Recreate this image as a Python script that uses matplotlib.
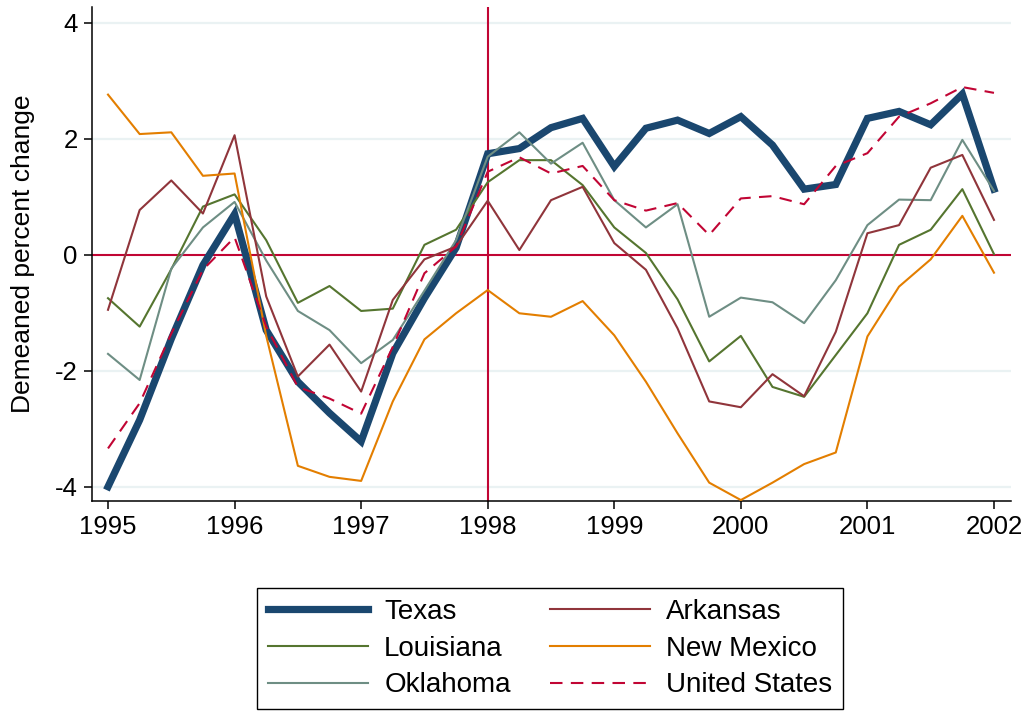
import matplotlib
matplotlib.use("Agg")
import matplotlib.pyplot as plt
import numpy as np

plt.rcParams['font.family'] = ['Liberation Sans', 'DejaVu Sans']

# Quarterly time axis 1995Q1 .. 2002Q1
years = [1995, 1996, 1997, 1998, 1999, 2000, 2001, 2002]
quarters = np.arange(29) / 4.0 + 1995

texas = [-4.00, -2.85, -1.45, -0.18, 0.70, -1.30, -2.19, -2.73, -3.22, -1.70,
         -0.75, 0.12, 1.74, 1.83, 2.19, 2.35, 1.52, 2.18, 2.32, 2.09,
         2.38, 1.89, 1.13, 1.21, 2.35, 2.47, 2.24, 2.77, 1.13]
louisiana = [-0.75, -1.24, -0.25, 0.83, 1.04, 0.25, -0.83, -0.54, -0.97, -0.93,
             0.17, 0.43, 1.25, 1.63, 1.63, 1.20, 0.47, 0.03, -0.77, -1.84,
             -1.40, -2.28, -2.45, -1.73, -1.01, 0.17, 0.43, 1.13, 0.01]
oklahoma = [-1.71, -2.16, -0.24, 0.47, 0.91, -0.10, -0.97, -1.30, -1.87, -1.47,
            -0.62, 0.25, 1.69, 2.11, 1.57, 1.93, 0.94, 0.47, 0.87, -1.07,
            -0.74, -0.82, -1.18, -0.44, 0.51, 0.95, 0.94, 1.98, 1.10]
arkansas = [-0.95, 0.77, 1.28, 0.71, 2.06, -0.72, -2.10, -1.55, -2.36, -0.78,
            -0.08, 0.14, 0.93, 0.08, 0.94, 1.17, 0.20, -0.26, -1.27, -2.53,
            -2.63, -2.06, -2.44, -1.33, 0.37, 0.51, 1.50, 1.72, 0.60]
new_mexico = [2.76, 2.08, 2.11, 1.36, 1.40, -1.40, -3.64, -3.83, -3.90, -2.53,
              -1.46, -1.01, -0.61, -1.01, -1.07, -0.80, -1.39, -2.19, -3.08, -3.93,
              -4.23, -3.93, -3.61, -3.41, -1.41, -0.55, -0.08, 0.67, -0.31]
united_states = [-3.34, -2.56, -1.36, -0.26, 0.30, -1.24, -2.28, -2.48, -2.74, -1.59,
                 -0.32, 0.14, 1.43, 1.68, 1.40, 1.53, 0.94, 0.76, 0.89, 0.34,
                 0.97, 1.01, 0.87, 1.53, 1.75, 2.38, 2.61, 2.89, 2.79]

yticks = [-4, -2, 0, 2, 4]
ytick_labels = ['-4', '-2', '0', '2', '4']

NAVY = '#1a476f'
MAROON = '#90353b'
FOREST = '#55752f'
ORANGE = '#e37e00'
TEAL = '#6e8e84'
CRANBERRY = '#c10534'
GRID = '#eaf2f3'

fig = plt.figure(figsize=(10.29, 7.11), dpi=100)
ax = fig.add_axes([0.0891, 0.2958, 0.8931, 0.6944])

ax.set_xlim(1994.871, 2002.132)
ax.set_ylim(-4.241, 4.271)

for y in yticks:
    if y != 0:
        ax.axhline(y, color=GRID, lw=1.6, zorder=0.5)
ax.axhline(0, color=CRANBERRY, lw=1.5, zorder=1.5)
ax.axvline(1998, color=CRANBERRY, lw=1.5, zorder=1.5)

l_tx, = ax.plot(quarters, texas, color=NAVY, lw=5.2, label='Texas', zorder=2,
                solid_joinstyle='miter')
l_la, = ax.plot(quarters, louisiana, color=FOREST, lw=1.5, label='Louisiana', zorder=3)
l_ok, = ax.plot(quarters, oklahoma, color=TEAL, lw=1.5, label='Oklahoma', zorder=3)
l_ar, = ax.plot(quarters, arkansas, color=MAROON, lw=1.5, label='Arkansas', zorder=3)
l_nm, = ax.plot(quarters, new_mexico, color=ORANGE, lw=1.5, label='New Mexico', zorder=3)
l_us, = ax.plot(quarters, united_states, color=CRANBERRY, lw=1.5, dashes=(6, 4),
                label='United States', zorder=3)

for s in ['top', 'right']:
    ax.spines[s].set_visible(False)
for s in ['left', 'bottom']:
    ax.spines[s].set_linewidth(1.1)
    ax.spines[s].set_color('black')

ax.set_xticks(years)
ax.set_xticklabels([str(y) for y in years])
ax.set_yticks(yticks)
ax.set_yticklabels(ytick_labels)
ax.tick_params(axis='both', direction='out', length=6, width=1.1, labelsize=18.5,
               colors='black', pad=4)

fig.text(23 / 1029, 1 - 253.8 / 711, 'Demeaned percent change', rotation=90,
         ha='center', va='center', fontsize=19)

handles = [l_tx, l_la, l_ok, l_ar, l_nm, l_us]
leg = fig.legend(handles=handles, labels=[h.get_label() for h in handles],
                 ncol=2, loc='upper center', bbox_to_anchor=(550 / 1029, 1 - 588 / 711),
                 borderaxespad=0.0,
                 fontsize=20, frameon=True, fancybox=False, framealpha=1,
                 edgecolor='black', handlelength=3.6, handletextpad=0.58,
                 columnspacing=1.4, labelspacing=0.38, borderpad=0.4)
leg.get_frame().set_linewidth(1.0)

fig.savefig('out.png', dpi=100)
